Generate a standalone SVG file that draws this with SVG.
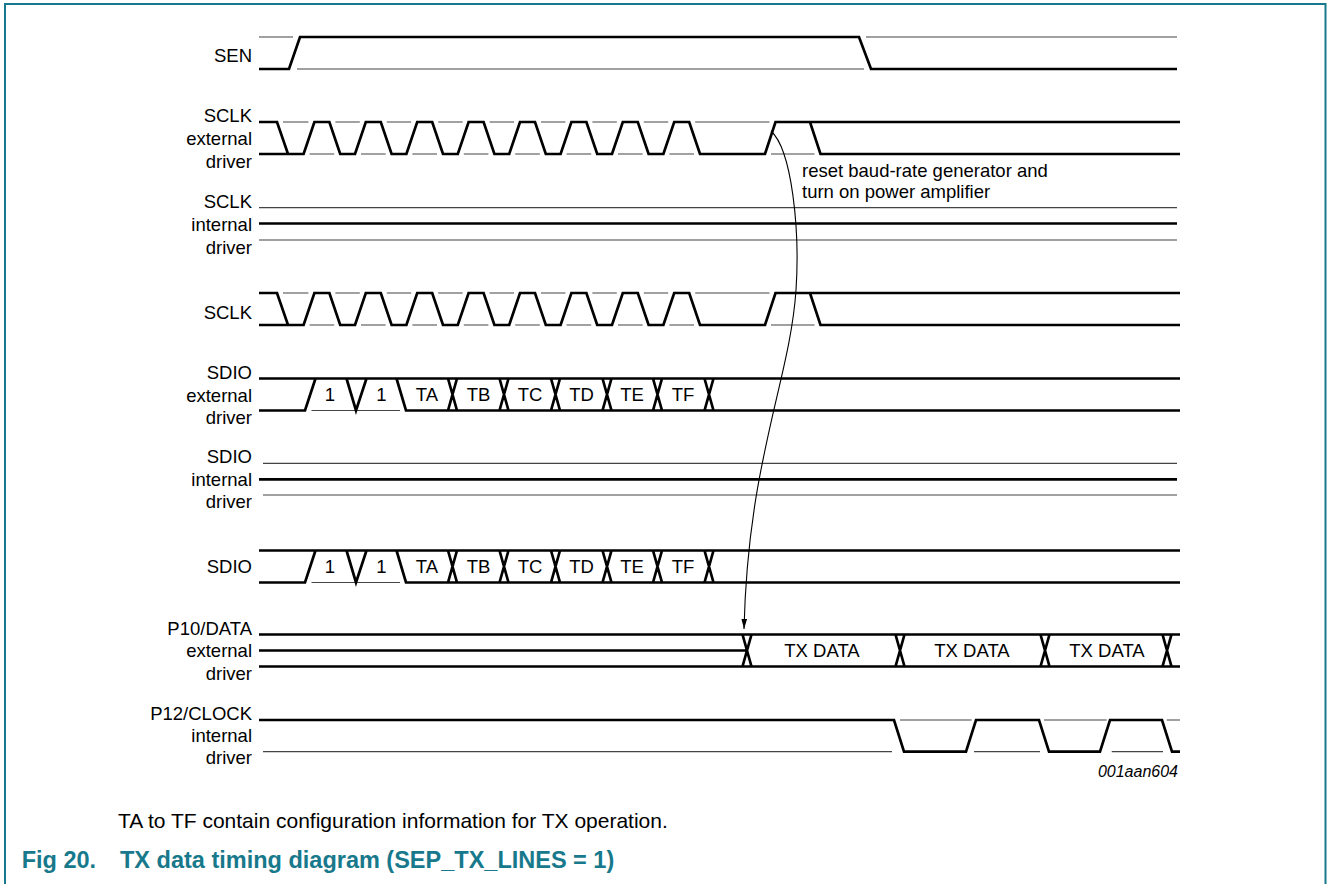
<svg xmlns="http://www.w3.org/2000/svg" width="1327" height="884" viewBox="0 0 1327 884">
<style>
.lbl{font-family:"Liberation Sans",Arial,sans-serif;font-size:18.5px;fill:#000;text-anchor:end}
.cell{font-family:"Liberation Sans",Arial,sans-serif;font-size:18.5px;fill:#000;text-anchor:middle}
.note{font-family:"Liberation Sans",Arial,sans-serif;font-size:18.5px;fill:#000}
.thick{fill:none;stroke:#000;stroke-width:2.7;stroke-linejoin:miter}
.thin{fill:none;stroke:#444;stroke-width:1.2}
.frame{fill:none;stroke:#17798b;stroke-width:2}
.title{font-family:"Liberation Sans",Arial,sans-serif;font-size:23.5px;font-weight:bold;fill:#17798b}
</style>
<defs>
<marker id="arr" markerUnits="userSpaceOnUse" markerWidth="11" markerHeight="7" refX="10" refY="2.8" orient="auto">
<path d="M0,0 L10,2.8 L0,5.6 z" fill="#000"/>
</marker>
<g id="sclkWave">
<path class="thin" d="M283,122 H308.4 M335.4,122 H359.8 M386.8,122 H411.2 M438.2,122 H462.6 M489.6,122 H514 M541,122 H565.4 M592.4,122 H616.8 M643.8,122 H668.2 M695.2,122 H769.5 M309.6,154 H334.2 M361,154 H385.6 M412.4,154 H437 M463.8,154 H488.4 M515.2,154 H539.8 M566.6,154 H591.2 M618,154 H642.6 M669.4,154 H694 M771,154 H814.5"/>
<path class="thick" d="M259,122 H277 L288,154 H303.6 L314.4,122 H329.4 L340.2,154 H355 L365.8,122 H380.8 L391.6,154 H406.4 L417.2,122 H432.2 L443,154 H457.8 L468.6,122 H483.6 L494.4,154 H509.2 L520,122 H535 L545.8,154 H560.6 L571.4,122 H586.4 L597.2,154 H612 L622.8,122 H637.8 L648.6,154 H663.4 L674.2,122 H689.2 L700,154 H765 L775.5,122 H810 L820.5,154 H1180 M259,154 H288 M810,122 H1180"/>
</g>
<g id="sdioWave">
<path class="thin" d="M311.5,410.5 H400"/>
<path class="thick" d="M259,378.5 H1180 M259,410.5 H305 L315.5,378.5 M346.5,378.5 L356,410.5 L366.5,378.5 M396.5,378.5 L406,410.5 H1180 M448,378.5 L457,410.5 M448,410.5 L457,378.5 M499.5,378.5 L508.5,410.5 M499.5,410.5 L508.5,378.5 M551,378.5 L560,410.5 M551,410.5 L560,378.5 M602.5,378.5 L611.5,410.5 M602.5,410.5 L611.5,378.5 M653,378.5 L662,410.5 M653,410.5 L662,378.5 M704.5,378.5 L713.5,410.5 M704.5,410.5 L713.5,378.5"/>
<text class="cell" x="330" y="401">1</text>
<text class="cell" x="381.5" y="401">1</text>
<text class="cell" x="427" y="401">TA</text>
<text class="cell" x="478.5" y="401">TB</text>
<text class="cell" x="530" y="401">TC</text>
<text class="cell" x="581.5" y="401">TD</text>
<text class="cell" x="632" y="401">TE</text>
<text class="cell" x="683" y="401">TF</text>
</g>
</defs>

<path class="frame" d="M5,884 V4 H1325.5 V884"/>

<g id="sen">
<text class="lbl" x="252" y="61.5">SEN</text>
<path class="thin" d="M259,37 H293 M297,69 H864 M866,37 H1177"/>
<path class="thick" d="M259,69 H289 L300,37 H859 L871,69 H1177"/>
</g>

<g id="sclk-external">
<text class="lbl" x="252" y="122">SCLK</text>
<text class="lbl" x="252" y="145">external</text>
<text class="lbl" x="252" y="168">driver</text>
<use href="#sclkWave"/>
</g>

<g id="sclk-internal">
<text class="lbl" x="252" y="208">SCLK</text>
<text class="lbl" x="252" y="231">internal</text>
<text class="lbl" x="252" y="254">driver</text>
<path class="thin" d="M259,207.7 H1177 M259,240 H1177"/>
<path class="thick" d="M259,223.5 H1177"/>
</g>

<g id="sclk">
<text class="lbl" x="252" y="319">SCLK</text>
<use href="#sclkWave" transform="translate(0,171)"/>
</g>

<g id="sdio-external">
<text class="lbl" x="252" y="379">SDIO</text>
<text class="lbl" x="252" y="401.5">external</text>
<text class="lbl" x="252" y="424">driver</text>
<use href="#sdioWave"/>
</g>

<g id="sdio-internal">
<text class="lbl" x="252" y="463.3">SDIO</text>
<text class="lbl" x="252" y="485.5">internal</text>
<text class="lbl" x="252" y="507.5">driver</text>
<path class="thin" d="M263,463.3 H1177 M263,495 H1177"/>
<path class="thick" d="M259,479.3 H1177"/>
</g>

<g id="sdio">
<text class="lbl" x="252" y="573.3">SDIO</text>
<use href="#sdioWave" transform="translate(0,172)"/>
</g>

<g id="p10-data">
<text class="lbl" x="252" y="634.5">P10/DATA</text>
<text class="lbl" x="252" y="657">external</text>
<text class="lbl" x="252" y="679.5">driver</text>
<path class="thick" d="M259,634.5 H1180 M259,666.5 H1180 M259,650.5 H747 M742.5,634.5 L751.5,666.5 M742.5,666.5 L751.5,634.5 M895.5,634.5 L904.5,666.5 M895.5,666.5 L904.5,634.5 M1040.5,634.5 L1049.5,666.5 M1040.5,666.5 L1049.5,634.5 M1162.5,634.5 L1171.5,666.5 M1162.5,666.5 L1171.5,634.5"/>
<text class="cell" x="822" y="657">TX DATA</text>
<text class="cell" x="972" y="657">TX DATA</text>
<text class="cell" x="1107" y="657">TX DATA</text>
</g>

<g id="p12-clock">
<text class="lbl" x="252" y="719.5">P12/CLOCK</text>
<text class="lbl" x="252" y="741.7">internal</text>
<text class="lbl" x="252" y="763.5">driver</text>
<path class="thin" d="M263,751.7 H892 M900,720 H971.7 M1044,720 H1106.7 M1166.7,720 H1180 M974,751.7 H1040 M1111.7,751.7 H1163"/>
<path class="thick" d="M259,720 H894 L904,751.7 H966 L976,720 H1039 L1049,751.7 H1100 L1110,720 H1162 L1172,751.7 H1180"/>
</g>

<g id="connectors">
<path d="M771,131 C792,150 800,230 796,290 C790,380 748,460 744,629" fill="none" stroke="#000" stroke-width="1.1" marker-end="url(#arr)"/>
</g>

<g id="annotation">
<text class="note" x="802" y="176.5">reset baud-rate generator and</text>
<text class="note" x="802" y="198">turn on power amplifier</text>
</g>

<text x="1178" y="777" font-family="'Liberation Sans',Arial,sans-serif" font-size="16" font-style="italic" text-anchor="end" fill="#000">001aan604</text>
<text x="118" y="827.5" font-family="'Liberation Sans',Arial,sans-serif" font-size="21" fill="#000">TA to TF contain configuration information for TX operation.</text>
<text class="title" x="21.7" y="868">Fig 20.</text>
<text class="title" x="120" y="868">TX data timing diagram (SEP_TX_LINES = 1)</text>
</svg>
